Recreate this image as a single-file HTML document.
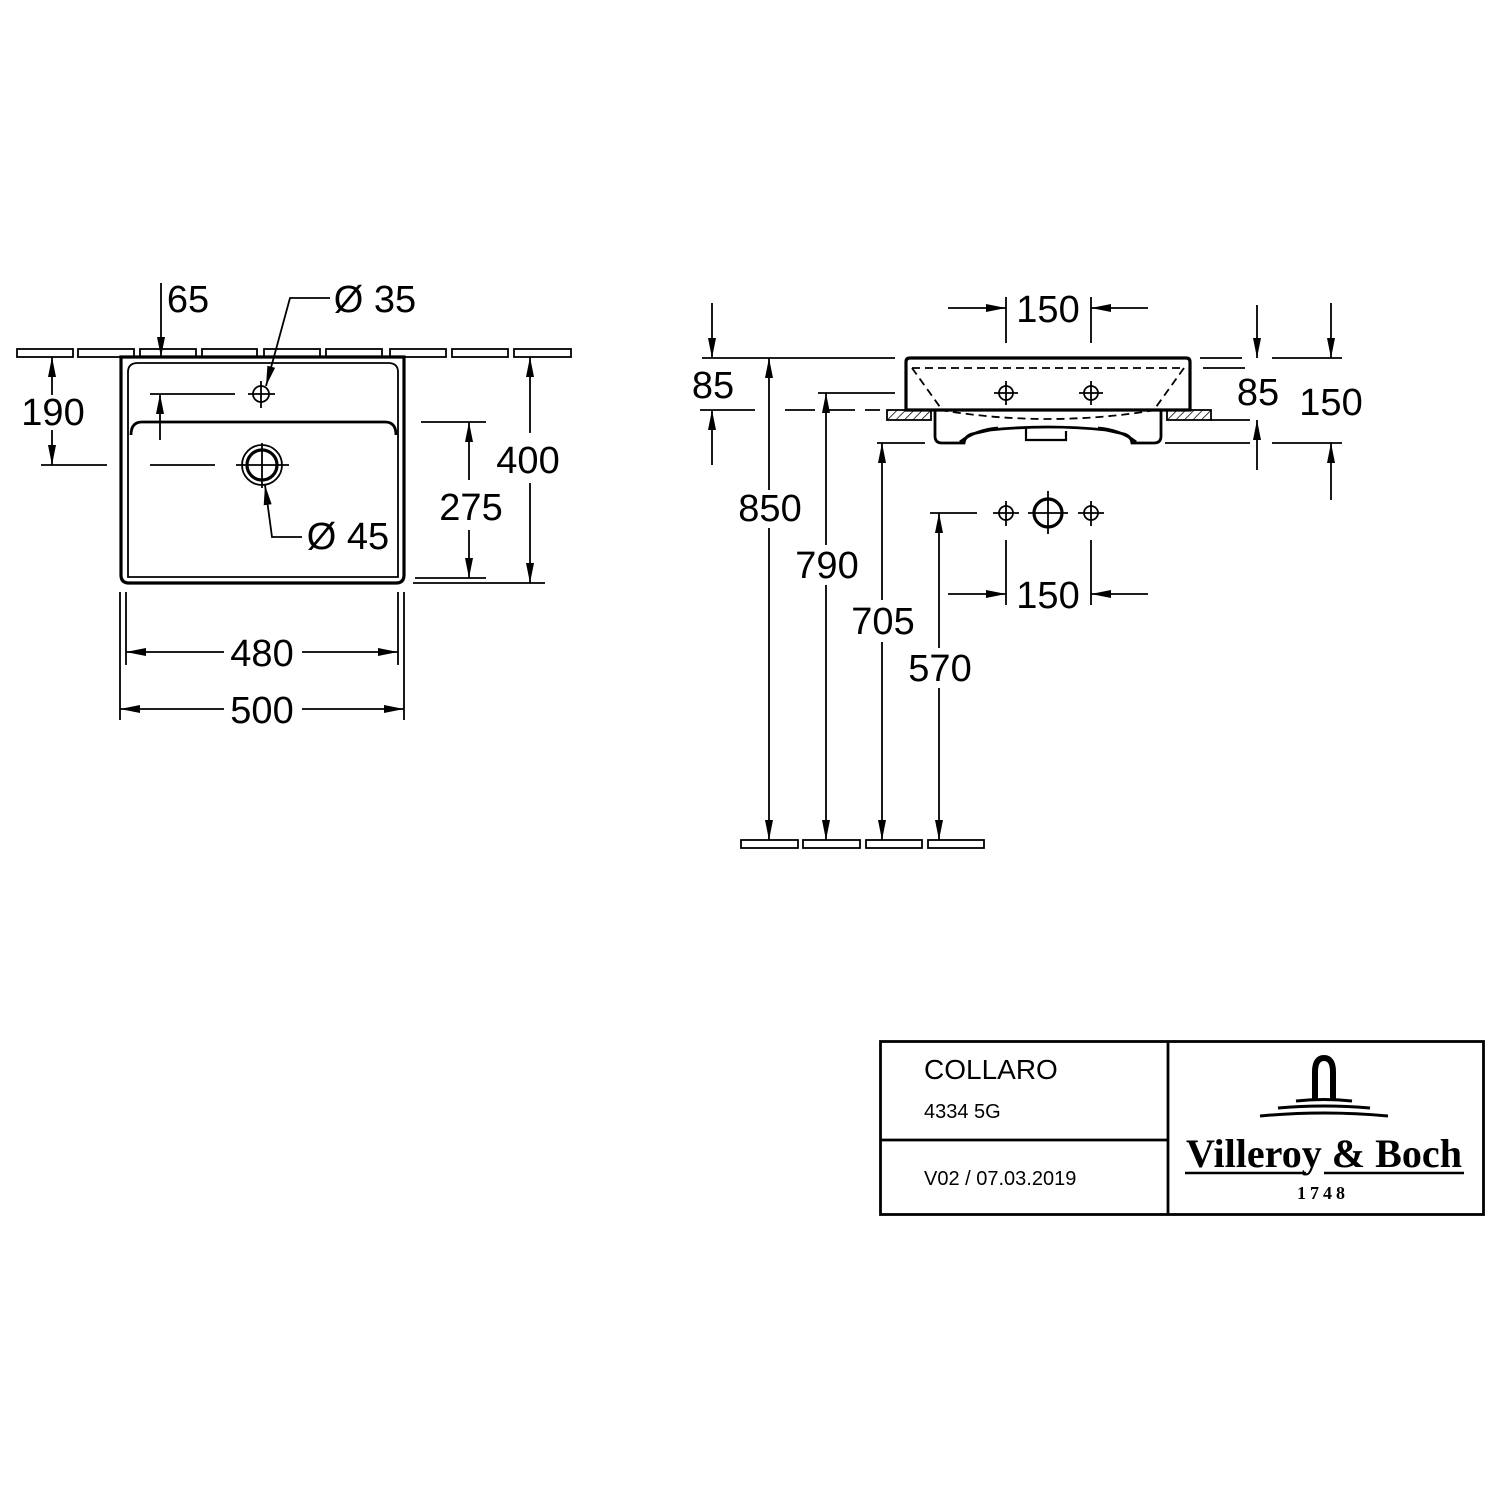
<!DOCTYPE html>
<html><head><meta charset="utf-8"><style>html,body{margin:0;padding:0;background:#fff}svg{display:block}</style></head>
<body>
<svg width="1500" height="1500" viewBox="0 0 1500 1500" xmlns="http://www.w3.org/2000/svg" font-family="Liberation Sans, sans-serif">
<defs>
<marker id="a" viewBox="0 0 20 8" refX="20" refY="4" markerWidth="20" markerHeight="8" markerUnits="userSpaceOnUse" orient="auto"><path d="M0,0L20,4L0,8z" fill="#000"/></marker>
<pattern id="h" width="6" height="6" patternUnits="userSpaceOnUse" patternTransform="rotate(45)"><line x1="0" y1="0" x2="0" y2="6" stroke="#000" stroke-width="1.5"/></pattern>
</defs>
<g fill="none" stroke="#000" stroke-width="1.8">
<g>
<rect x="17" y="349" width="56" height="8"/><rect x="78" y="349" width="56" height="8"/><rect x="140" y="349" width="56" height="8"/><rect x="202" y="349" width="55" height="8"/><rect x="264" y="349" width="56" height="8"/><rect x="326" y="349" width="56" height="8"/><rect x="390" y="349" width="56" height="8"/><rect x="452" y="349" width="56" height="8"/><rect x="514" y="349" width="57" height="8"/>
</g>
<path d="M121,357V575Q121,583 129,583H396Q404,583 404,575V357Z" stroke-width="3.2" fill="#fff"/>
<path d="M128,577V372Q128,363 138,363H388Q398,363 398,372V577Z" stroke-width="1.8"/>
<path d="M131,435Q131,422 142,422H385Q396,422 396,435" stroke-width="2.8"/>
<circle cx="261" cy="394" r="8"/><line x1="248" y1="394" x2="275" y2="394"/><line x1="261" y1="381" x2="261" y2="408"/>
<circle cx="262" cy="465" r="15" stroke-width="3.2"/><circle cx="262" cy="465" r="20"/>
<line x1="236" y1="465" x2="289" y2="465"/><line x1="262" y1="443" x2="262" y2="488"/>
<line x1="150" y1="394" x2="235" y2="394"/><line x1="150" y1="465" x2="215" y2="465"/>
<line x1="161" y1="283" x2="161" y2="357" marker-end="url(#a)"/>
<polyline points="330,298 290,298 266,386" marker-end="url(#a)"/>
<polyline points="302,537 272,537 265,485" marker-end="url(#a)"/>
<line x1="52" y1="395" x2="52" y2="357" marker-end="url(#a)"/>
<line x1="52" y1="430" x2="52" y2="465" marker-end="url(#a)"/>
<line x1="41" y1="465" x2="107" y2="465"/>
<line x1="160" y1="440" x2="160" y2="394" marker-end="url(#a)"/>
<line x1="421" y1="422" x2="486" y2="422"/><line x1="415" y1="578" x2="486" y2="578"/>
<line x1="469" y1="480" x2="469" y2="422" marker-end="url(#a)"/>
<line x1="469" y1="530" x2="469" y2="578" marker-end="url(#a)"/>
<line x1="413" y1="583" x2="545" y2="583"/>
<line x1="530" y1="433" x2="530" y2="357" marker-end="url(#a)"/>
<line x1="530" y1="483" x2="530" y2="583" marker-end="url(#a)"/>
<line x1="126" y1="592" x2="126" y2="665"/><line x1="398" y1="592" x2="398" y2="665"/>
<line x1="120" y1="592" x2="120" y2="720"/><line x1="404" y1="592" x2="404" y2="720"/>
<line x1="224" y1="652" x2="126" y2="652" marker-end="url(#a)"/><line x1="302" y1="652" x2="398" y2="652" marker-end="url(#a)"/>
<line x1="224" y1="709" x2="120" y2="709" marker-end="url(#a)"/><line x1="302" y1="709" x2="404" y2="709" marker-end="url(#a)"/>

<rect x="887" y="410" width="44" height="10" fill="url(#h)"/><rect x="1167" y="410" width="44" height="10" fill="url(#h)"/>
<path d="M906,410V362Q906,358 910,358H1186Q1190,358 1190,362V410Z" stroke-width="3.2" fill="none"/>
<path d="M912,368H1184" stroke-dasharray="8,5"/>
<path d="M912,368L940,407M1184,368L1156,407" stroke-dasharray="8,5"/>
<path d="M940,410Q1048,428 1156,410" stroke-dasharray="8,5"/>
<path d="M935,410V436Q935,443 942,443H964Q965,436 972,434L990,430Q1048,424 1106,430L1124,434Q1131,436 1132,443H1154Q1161,443 1161,436V410" stroke-width="2.8"/>
<path d="M960,442Q975,430 998,428" stroke-width="2.8"/><path d="M1136,442Q1121,430 1098,428" stroke-width="2.8"/>
<path d="M1026,428V440H1066V431" stroke-width="2.2"/>
<circle cx="1006" cy="393" r="7"/><line x1="994" y1="393" x2="1018" y2="393"/><line x1="1006" y1="381" x2="1006" y2="405"/>
<circle cx="1091" cy="393" r="7"/><line x1="1079" y1="393" x2="1103" y2="393"/><line x1="1091" y1="381" x2="1091" y2="405"/>
<line x1="702" y1="358" x2="895" y2="358"/>
<line x1="712" y1="303" x2="712" y2="358" marker-end="url(#a)"/>
<line x1="712" y1="465" x2="712" y2="410" marker-end="url(#a)"/>
<line x1="700" y1="410" x2="755" y2="410"/>
<line x1="785" y1="410" x2="880" y2="410" stroke-dasharray="30,10"/>
<line x1="818" y1="393" x2="895" y2="393"/>
<line x1="877" y1="443" x2="925" y2="443"/>
<line x1="930" y1="513" x2="977" y2="513"/>
<line x1="769" y1="490" x2="769" y2="358" marker-end="url(#a)"/><line x1="769" y1="528" x2="769" y2="840" marker-end="url(#a)"/>
<line x1="826" y1="545" x2="826" y2="393" marker-end="url(#a)"/><line x1="826" y1="585" x2="826" y2="840" marker-end="url(#a)"/>
<line x1="882" y1="600" x2="882" y2="443" marker-end="url(#a)"/><line x1="882" y1="642" x2="882" y2="840" marker-end="url(#a)"/>
<line x1="939" y1="648" x2="939" y2="513" marker-end="url(#a)"/><line x1="939" y1="688" x2="939" y2="840" marker-end="url(#a)"/>
<rect x="741" y="840" width="57" height="8"/><rect x="803" y="840" width="57" height="8"/><rect x="866" y="840" width="56" height="8"/><rect x="928" y="840" width="56" height="8"/>
<line x1="1006" y1="297" x2="1006" y2="343"/><line x1="1091" y1="297" x2="1091" y2="343"/>
<line x1="948" y1="308" x2="1006" y2="308" marker-end="url(#a)"/><line x1="1148" y1="308" x2="1091" y2="308" marker-end="url(#a)"/>
<line x1="1200" y1="358" x2="1242" y2="358"/><line x1="1203" y1="368" x2="1245" y2="368"/>
<line x1="1210" y1="420" x2="1250" y2="420"/><line x1="1165" y1="443" x2="1250" y2="443"/>
<line x1="1257" y1="305" x2="1257" y2="358" marker-end="url(#a)"/>
<line x1="1257" y1="470" x2="1257" y2="420" marker-end="url(#a)"/>
<line x1="1272" y1="358" x2="1342" y2="358"/><line x1="1272" y1="443" x2="1342" y2="443"/>
<line x1="1331" y1="303" x2="1331" y2="358" marker-end="url(#a)"/>
<line x1="1331" y1="500" x2="1331" y2="443" marker-end="url(#a)"/>
<circle cx="1006" cy="513" r="7"/><line x1="993" y1="513" x2="1019" y2="513"/><line x1="1006" y1="501" x2="1006" y2="526"/>
<circle cx="1048" cy="513" r="14" stroke-width="3.2"/><line x1="1028" y1="513" x2="1068" y2="513"/><line x1="1048" y1="491" x2="1048" y2="534"/>
<circle cx="1091" cy="513" r="7"/><line x1="1078" y1="513" x2="1104" y2="513"/><line x1="1091" y1="501" x2="1091" y2="526"/>
<line x1="1006" y1="540" x2="1006" y2="605"/><line x1="1091" y1="540" x2="1091" y2="605"/>
<line x1="948" y1="594" x2="1006" y2="594" marker-end="url(#a)"/><line x1="1148" y1="594" x2="1091" y2="594" marker-end="url(#a)"/>

<rect x="880.5" y="1041.5" width="603" height="173" stroke-width="2.8"/>
<line x1="1168" y1="1041" x2="1168" y2="1215" stroke-width="2.8"/>
<line x1="880" y1="1140" x2="1168" y2="1140" stroke-width="2.8"/>
<path d="M1315,1099V1072Q1315,1058 1324,1058Q1333,1058 1333,1072V1099" stroke-width="6"/>
<path d="M1296,1101Q1324,1098 1352,1101" stroke-width="3"/>
<path d="M1278,1108Q1324,1104 1370,1108" stroke-width="3"/>
<path d="M1260,1116Q1324,1110 1388,1116" stroke-width="3"/>
<line x1="1185" y1="1173" x2="1306" y2="1173" stroke-width="2.5"/><line x1="1324" y1="1173" x2="1464" y2="1173" stroke-width="2.5"/>
</g>
<g font-size="38" fill="#000" text-anchor="middle">
<text x="188" y="312">65</text>
<text x="375" y="312">Ø 35</text>
<text x="53" y="425">190</text>
<text x="348" y="549">Ø 45</text>
<text x="471" y="520">275</text>
<text x="528" y="473">400</text>
<text x="262" y="666">480</text>
<text x="262" y="723">500</text>
<text x="713" y="398">85</text>
<text x="770" y="521">850</text>
<text x="827" y="578">790</text>
<text x="883" y="634">705</text>
<text x="940" y="681">570</text>
<text x="1048" y="322">150</text>
<text x="1258" y="405">85</text>
<text x="1331" y="415">150</text>
<text x="1048" y="608">150</text>
</g>
<g fill="#000">
<text x="924" y="1079" font-size="28">COLLARO</text>
<text x="924" y="1118" font-size="20">4334 5G</text>
<text x="924" y="1185" font-size="20">V02 / 07.03.2019</text>
<text x="1324" y="1167" font-size="40" font-weight="bold" text-anchor="middle" textLength="276" lengthAdjust="spacingAndGlyphs" font-family="Liberation Serif, serif">Villeroy &amp; Boch</text>
<text x="1323" y="1199" font-size="18" font-weight="bold" text-anchor="middle" letter-spacing="4" font-family="Liberation Serif, serif">1748</text>
</g>
</svg>
</body></html>
